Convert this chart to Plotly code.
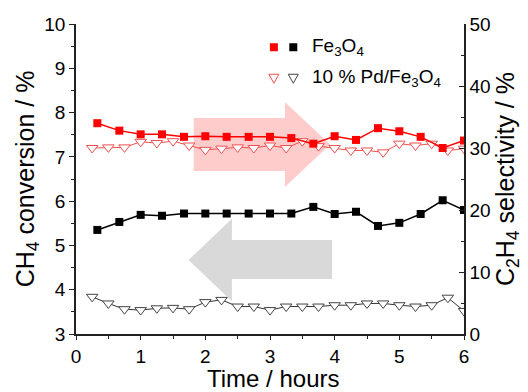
import plotly.graph_objects as go

# ---- data ----
t_sq = [0.33, 0.67, 1.0, 1.33, 1.67, 2.0, 2.33, 2.67, 3.0, 3.33, 3.67, 4.0, 4.33, 4.67, 5.0, 5.33, 5.67, 6.0]
t_tri = [0.25, 0.5, 0.75, 1.0, 1.25, 1.5, 1.75, 2.0, 2.25, 2.5, 2.75, 3.0,
         3.25, 3.5, 3.75, 4.0, 4.25, 4.5, 4.75, 5.0, 5.25, 5.5, 5.75, 6.0]

# C2H4 selectivity (%) - right axis, red
sel_fe3o4 = [34.0, 32.8, 32.2, 32.2, 31.8, 31.9, 31.8, 31.8, 31.8, 31.6, 30.7, 31.9, 31.3, 33.2, 32.7, 31.8, 30.0, 31.2]
sel_pd = [30.0, 30.1, 30.1, 31.0, 30.8, 31.1, 30.4, 29.7, 29.9, 30.1, 30.0, 30.4,
          30.0, 31.1, 30.3, 30.0, 29.6, 29.6, 29.3, 30.7, 30.4, 30.7, 29.6, 29.9]

# CH4 conversion (%) - left axis, black
conv_fe3o4 = [5.35, 5.53, 5.69, 5.67, 5.72, 5.72, 5.72, 5.72, 5.72, 5.72, 5.87, 5.71, 5.76, 5.44, 5.51, 5.71, 6.02, 5.80]
conv_pd = [3.84, 3.69, 3.56, 3.54, 3.58, 3.59, 3.56, 3.72, 3.77, 3.62, 3.62, 3.54,
           3.62, 3.62, 3.62, 3.65, 3.65, 3.69, 3.69, 3.65, 3.62, 3.65, 3.82, 3.52]

x_ticks = [0, 1, 2, 3, 4, 5, 6]
yl_ticks = [3, 4, 5, 6, 7, 8, 9, 10]
yr_ticks = [0, 10, 20, 30, 40, 50]

FONT = "Arial, Liberation Sans, sans-serif"
RED = "#ff0000"
RED_LIGHT = "#f05050"

fig = go.Figure()

fig.add_trace(go.Scatter(x=t_tri, y=conv_pd, mode="lines+markers",
                         line=dict(color="#333333", width=1),
                         marker=dict(symbol="triangle-down", size=10, color="white",
                                     line=dict(color="#444444", width=1)),
                         showlegend=False))
fig.add_trace(go.Scatter(x=t_sq, y=conv_fe3o4, mode="lines+markers",
                         line=dict(color="black", width=1.5),
                         marker=dict(symbol="square", size=8, color="black"),
                         showlegend=False))
fig.add_trace(go.Scatter(x=t_tri, y=sel_pd, mode="lines+markers", yaxis="y2",
                         line=dict(color=RED_LIGHT, width=1),
                         marker=dict(symbol="triangle-down", size=10, color="white",
                                     line=dict(color=RED_LIGHT, width=1)),
                         showlegend=False))
fig.add_trace(go.Scatter(x=t_sq, y=sel_fe3o4, mode="lines+markers", yaxis="y2",
                         line=dict(color=RED, width=1.5),
                         marker=dict(symbol="square", size=8, color=RED),
                         showlegend=False))

shapes = []
# arrows (background decorations)
shapes.append(dict(type="path", xref="x", yref="y", layer="below", line=dict(width=0),
                   fillcolor="rgba(255,0,0,0.2)",
                   path="M 1.82,7.88 L 3.23,7.88 L 3.23,8.24 L 3.93,7.28 L 3.23,6.32 L 3.23,6.68 L 1.82,6.68 Z"))
shapes.append(dict(type="path", xref="x", yref="y", layer="below", line=dict(width=0),
                   fillcolor="#d9d9d9",
                   path="M 3.96,5.12 L 2.41,5.12 L 2.41,5.60 L 1.74,4.67 L 2.41,3.74 L 2.41,4.24 L 3.96,4.24 Z"))

# custom legend symbols (pixel-sized, anchored in paper coords)
def sq(xa, ya, color):
    return dict(type="rect", xref="paper", yref="paper", xsizemode="pixel", ysizemode="pixel",
                xanchor=xa, yanchor=ya, x0=-4, x1=4, y0=-4, y1=4,
                fillcolor=color, line=dict(width=0))

def tri(xa, ya, color):
    return dict(type="path", xref="paper", yref="paper", xsizemode="pixel", ysizemode="pixel",
                xanchor=xa, yanchor=ya, path="M -5,4 L 5,4 L 0,-5 Z",
                fillcolor="white", line=dict(color=color, width=1))

shapes += [sq(0.510, 0.925, RED), sq(0.560, 0.925, "black"),
           tri(0.510, 0.825, RED_LIGHT), tri(0.560, 0.825, "#444444")]

annotations = [
    dict(text="Fe<sub>3</sub>O<sub>4</sub>", xref="paper", yref="paper", x=0.603, y=0.925,
         xanchor="left", yanchor="middle", showarrow=False, font=dict(size=19, family=FONT, color="black")),
    dict(text="10 % Pd/Fe<sub>3</sub>O<sub>4</sub>", xref="paper", yref="paper", x=0.603, y=0.825,
         xanchor="left", yanchor="middle", showarrow=False, font=dict(size=19, family=FONT, color="black")),
    dict(text="Time / hours", xref="paper", yref="paper", x=0.508, y=-0.145,
         xanchor="center", yanchor="middle", showarrow=False, font=dict(size=24, family=FONT, color="black")),
]

axis_common = dict(showline=True, linecolor="#222222", linewidth=1.5, showgrid=False, zeroline=False,
                   tickfont=dict(size=19, family=FONT, color="black"), tickwidth=1.2,
                   tickcolor="#222222", automargin=False)

fig.update_layout(
    width=528, height=392,
    margin=dict(l=76, r=64, t=24, b=58),
    paper_bgcolor="white", plot_bgcolor="white",
    font=dict(family=FONT, color="black"),
    shapes=shapes, annotations=annotations,
    xaxis=dict(range=[0, 6], tickvals=x_ticks, ticks="outside", ticklen=4,
               minor=dict(dtick=0.5, ticklen=3, ticks="outside", tickcolor="#222222"),
               **axis_common),
    yaxis=dict(range=[3, 10], tickvals=yl_ticks, ticks="outside", ticklen=5,
               minor=dict(dtick=0.5, ticklen=3, ticks="outside", tickcolor="#222222"),
               title=dict(text="CH<sub>4</sub> conversion / %", font=dict(size=25, family=FONT), standoff=3),
               **axis_common),
    yaxis2=dict(range=[0, 50], tickvals=yr_ticks, ticks="inside", ticklen=5, overlaying="y", side="right",
                minor=dict(dtick=5, ticklen=3, ticks="inside", tickcolor="#222222"),
                title=dict(text="C<sub>2</sub>H<sub>4</sub> selectivity / %", font=dict(size=25, family=FONT), standoff=6),
                **axis_common),
)

fig.write_html("out.html", config={"displayModeBar": False},
               post_script="document.body.style.margin='0';document.body.style.overflow='hidden';")
